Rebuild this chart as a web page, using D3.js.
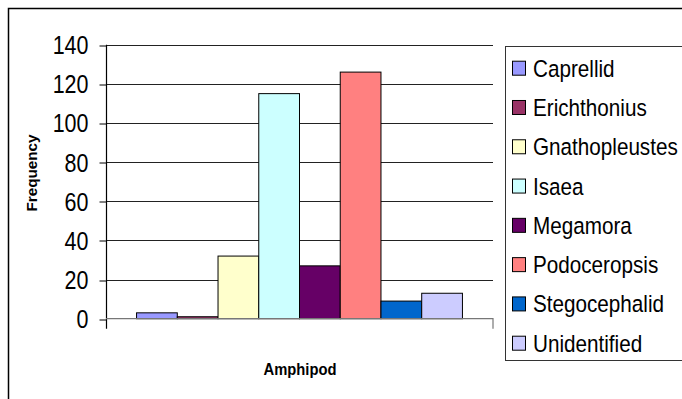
<!DOCTYPE html>
<html>
<head>
<meta charset="utf-8">
<script src="https://cdn.jsdelivr.net/npm/d3@7"></script>
<style>
  html, body { margin: 0; padding: 0; background: #fff; }
  svg { display: block; }
  text { font-family: "Liberation Sans", Arial, sans-serif; fill: #000; }
</style>
</head>
<body>
<svg id="chart" width="682" height="399"></svg>
<script>
// Amphipod counts by taxon
const categories = ["Amphipod"];
const taxa = ["Caprellid", "Erichthonius", "Gnathopleustes", "Isaea",
              "Megamora", "Podoceropsis", "Stegocephalid", "Unidentified"];
const counts = [3, 1, 32, 115, 27, 126, 9, 13];
const colors = ["#9999FF", "#993366", "#FFFFCC", "#CCFFFF",
                "#660066", "#FF8080", "#0066CC", "#CCCCFF"];
const yTicks = [0, 20, 40, 60, 80, 100, 120, 140];
const yTitle = "Frequency";

const svg = d3.select("#chart");

// Outer chart frame (runs off the right and bottom edges)
svg.append("rect")
  .attr("x", 8.5).attr("y", 8.5)
  .attr("width", 700).attr("height", 420)
  .attr("fill", "#fff").attr("stroke", "#000").attr("stroke-width", 1.5);

const plot = { left: 106, right: 493, top: 44.7, bottom: 318.7 };

const y = d3.scaleLinear().domain([0, 140]).range([plot.bottom, plot.top]);

// One category; 150% gap split around the group of series bars
const x0 = d3.scaleBand().domain(categories)
  .range([plot.left, plot.right])
  .paddingInner(0).paddingOuter(0.75 / taxa.length);
const x1 = d3.scaleBand().domain(taxa)
  .range([0, x0.bandwidth()]).padding(0);

// Horizontal gridlines
svg.append("g")
  .selectAll("line")
  .data(yTicks.filter(d => d > 0))
  .join("line")
  .attr("x1", plot.left).attr("x2", plot.right)
  .attr("y1", d => Math.round(y(d)) + 0.5)
  .attr("y2", d => Math.round(y(d)) + 0.5)
  .attr("stroke", "#222").attr("stroke-width", 1);

// Y axis with outward ticks
const yAxis = d3.axisLeft(y).tickValues(yTicks).tickSize(7).tickPadding(0).tickFormat(d3.format("d"));
const gy = svg.append("g")
  .attr("transform", `translate(${plot.left + 0.5},0)`)
  .call(yAxis);
gy.select(".domain").remove();
gy.selectAll(".tick line").attr("stroke", "#000")
  .attr("transform", d => `translate(0,${Math.round(y(d)) + 0.5 - y(d)})`);
gy.selectAll(".tick text")
  .attr("dy", null).attr("y", 9)
  .attr("font-size", 25)
  .attr("text-anchor", "end")
  .attr("transform", "scale(0.86,1)")
  .attr("x", -18 / 0.86)
  .style("font-family", "'Liberation Sans', Arial, sans-serif");

// Y axis line, extending down through the category tick
svg.append("line")
  .attr("x1", plot.left + 0.5).attr("x2", plot.left + 0.5)
  .attr("y1", plot.top).attr("y2", plot.bottom + 10)
  .attr("stroke", "#000").attr("stroke-width", 1.2);

// Bars
svg.append("g")
  .selectAll("rect")
  .data(taxa.map((t, i) => ({ taxon: t, value: counts[i], color: colors[i] })))
  .join("rect")
  .attr("x", d => x0(categories[0]) + x1(d.taxon))
  .attr("y", d => y(d.value))
  .attr("width", x1.bandwidth())
  .attr("height", d => y(0) - y(d.value))
  .attr("fill", d => d.color)
  .attr("stroke", "#000").attr("stroke-width", 1);

// X axis baseline and right category tick
const xAxis = d3.axisBottom(x0).tickSize(0).tickFormat("");
const gx = svg.append("g")
  .attr("transform", `translate(0,${plot.bottom})`)
  .call(xAxis);
gx.select(".domain").attr("stroke", "#777").attr("stroke-width", 1.2)
  .attr("d", `M${plot.left},0H${plot.right}V10`);

// Axis titles
svg.append("text")
  .attr("x", 300).attr("y", 375)
  .attr("text-anchor", "middle")
  .attr("font-weight", "bold").attr("font-size", 16)
  .attr("textLength", 73).attr("lengthAdjust", "spacingAndGlyphs")
  .text(categories[0]);

svg.append("text")
  .attr("transform", "translate(37,173) rotate(-90)")
  .attr("text-anchor", "middle")
  .attr("font-weight", "bold").attr("font-size", 14)
  .attr("textLength", 77).attr("lengthAdjust", "spacingAndGlyphs")
  .text(yTitle);

// Legend
const legend = svg.append("g");
legend.append("rect")
  .attr("x", 505.5).attr("y", 46.5)
  .attr("width", 200).attr("height", 314)
  .attr("fill", "#fff").attr("stroke", "#333").attr("stroke-width", 1);

const rowY = d3.scalePoint().domain(taxa).range([76.7, 351.7]);
const items = legend.selectAll("g.item")
  .data(taxa.map((t, i) => ({ taxon: t, color: colors[i] })))
  .join("g").attr("class", "item");
items.append("rect")
  .attr("x", 512.5).attr("y", d => rowY(d.taxon) - 15.5)
  .attr("width", 13).attr("height", 14)
  .attr("fill", d => d.color).attr("stroke", "#000").attr("stroke-width", 1);
const sx = 0.88;
items.append("text")
  .attr("x", 533 / sx).attr("y", d => rowY(d.taxon))
  .attr("font-size", 23.5)
  .attr("transform", `scale(${sx},1)`)
  .text(d => d.taxon);
</script>
</body>
</html>
